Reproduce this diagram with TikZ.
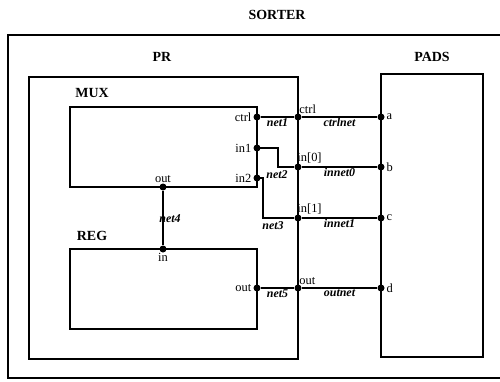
\documentclass[tikz,border=0pt]{standalone}
\usepackage{fontspec}
\setmainfont{Liberation Serif}
\begin{document}
\begin{tikzpicture}[x=1bp, y=-1bp, line width=1.1bp,
    title/.style={font=\fontsize{14}{14}\selectfont\bfseries, inner sep=0pt},
    port/.style={circle, fill, inner sep=0pt, minimum size=7bp},
    portlbl/.style={font=\fontsize{12.5}{12.5}\selectfont, inner sep=1pt},
    netlbl/.style={font=\fontsize{12}{12}\selectfont\bfseries\itshape, inner sep=1pt}]
    \useasboundingbox (0,0) rectangle (500,381);

    % SORTER (runs off the right edge)
    \draw (500,35) -- (8,35) -- (8,378) -- (500,378);
    \node[title] (sorter) at (277,15) {SORTER};

    % PR
    \draw (29,77) rectangle (298,359);
    \node[title] (pr) at (162,57) {PR};

    % MUX
    \draw (70,107) rectangle (257,187);
    \node[title] (mux) at (92,93) {MUX};

    % REG
    \draw (70,249) rectangle (257,329);
    \node[title] (reg) at (92,236) {REG};

    % PADS
    \draw (381,74) rectangle (483,357);
    \node[title] (pads) at (432,57) {PADS};

    % MUX and REG ports
    \node[port, label={[portlbl]left:ctrl}] (muxctrl) at (257,117) {};
    \node[port, label={[portlbl]left:in1}] (muxin1) at (257,148) {};
    \node[port, label={[portlbl]left:in2}] (muxin2) at (257,178) {};
    \node[port, label={[portlbl, yshift=-1bp]above:out}] (muxout) at (163,187) {};
    \node[port, label={[portlbl, yshift=1bp]below:in}] (regin) at (163,249) {};
    \node[port, label={[portlbl]left:out}] (regout) at (257,288) {};

    % PR ports
    \node[port, label={[portlbl, xshift=-3bp, yshift=-1bp]above right:ctrl}] (prctrl) at (298,117) {};
    \node[port, label={[portlbl, xshift=-5bp, yshift=-1bp]above right:in[0]}] (prin0) at (298,167) {};
    \node[port, label={[portlbl, xshift=-5bp, yshift=-1bp]above right:in[1]}] (prin1) at (298,218) {};
    \node[port, label={[portlbl, xshift=-3bp, yshift=-1bp]above right:out}] (prout) at (298,288) {};

    % PADS ports
    \node[port, label={[portlbl]right:a}] (pada) at (381,117) {};
    \node[port, label={[portlbl]right:b}] (padb) at (381,167) {};
    \node[port, label={[portlbl]right:c}] (padc) at (381,218) {};
    \node[port, label={[portlbl]right:d}] (padd) at (381,288) {};

    % nets inside PR
    \draw (muxctrl) -- node[netlbl, below] {net1} (prctrl);
    \draw (muxin1.center) -- ++(21,0) |- (prin0);
    \node[netlbl] (net2) at (277,175) {net2};
    \draw (muxin2.center) -- ++(6,0) |- (prin1);
    \node[netlbl] (net3) at (273,226) {net3};
    \draw (muxout) -- (regin);
    \node[netlbl] (net4) at (170,219) {net4};
    \draw (regout) -- node[netlbl, below] {net5} (prout);

    % nets to PADS
    \draw (prctrl) -- node[netlbl, below] {ctrlnet} (pada);
    \draw (prin0) -- node[netlbl, below] {innet0} (padb);
    \draw (prin1) -- node[netlbl, below] {innet1} (padc);
    \draw (prout) -- node[netlbl, below] {outnet} (padd);
\end{tikzpicture}
\end{document}
